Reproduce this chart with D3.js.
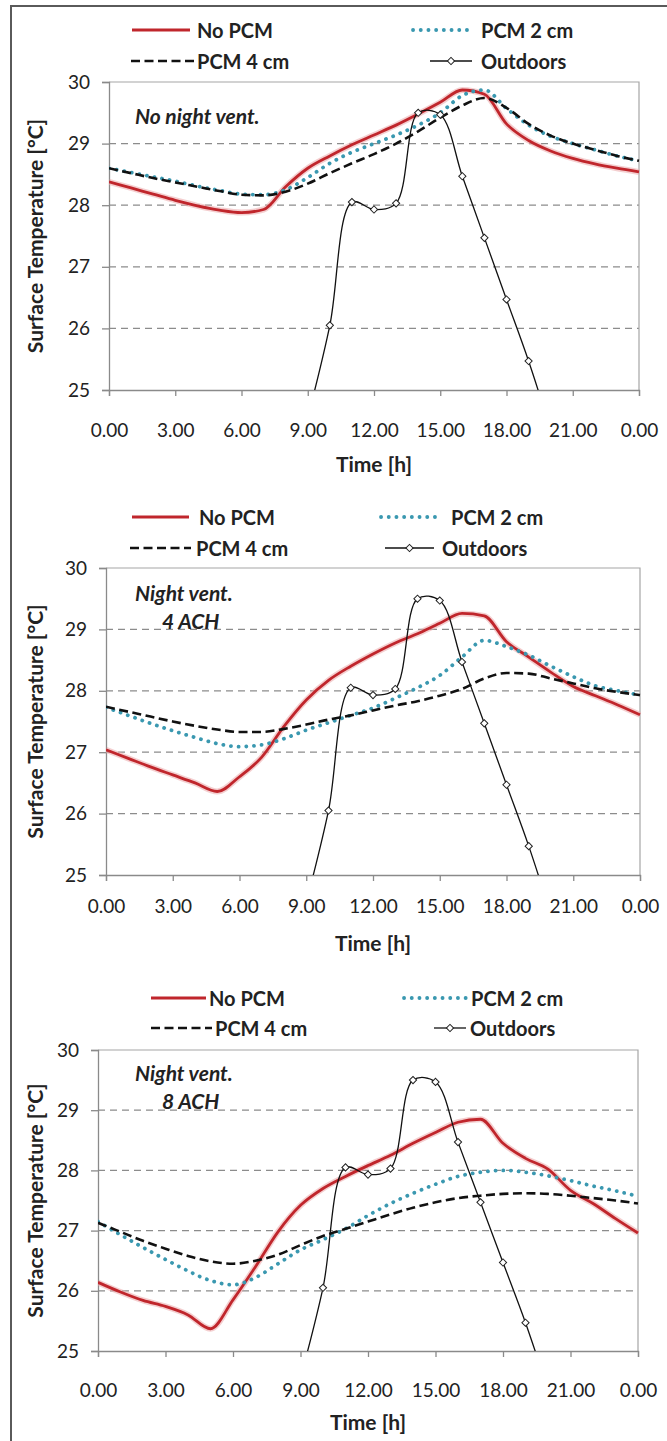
<!DOCTYPE html>
<html>
<head>
<meta charset="utf-8">
<script src="https://cdn.jsdelivr.net/npm/d3@7"></script>
<style>
  html, body { margin: 0; padding: 0; background: #fff; }
  svg { display: block; }
  text { font-family: "Lato", "Open Sans", sans-serif; fill: #222; }
</style>
</head>
<body>
<svg id="chart" width="667" height="1441"></svg>
<script>
// ---- data -------------------------------------------------------------
const hours = [0,1,2,3,4,5,6,7,8,9,10,11,12,13,14,15,16,17,18,19,20,21,22,23,24];
const xTickValues = [0,3,6,9,12,15,18,21,24];
const xTickLabels = ["0.00","3.00","6.00","9.00","12.00","15.00","18.00","21.00","0.00"];
const yTickValues = [25,26,27,28,29,30];
const seriesNames = ["No PCM","PCM 2 cm","PCM 4 cm","Outdoors"];
const panelTitles = [["No night vent."],["Night vent.","4 ACH"],["Night vent.","8 ACH"]];

// outdoor air temperature (same in all three cases)
const outdoorHours = [9,10,11,12,13,14,15,16,17,18,19,20];
const outdoorTemp  = [24.55,26.05,28.05,27.93,28.03,29.5,29.47,28.47,27.47,26.47,25.47,24.35];

// surface temperatures, no night ventilation
const noPcm1 = [28.38,28.28,28.18,28.08,27.99,27.92,27.88,27.93,28.3,28.6,28.8,28.98,29.14,29.3,29.48,29.67,29.87,29.8,29.32,29.05,28.88,28.76,28.67,28.6,28.54];
const pcm2_1 = [28.6,28.53,28.46,28.39,28.31,28.24,28.18,28.17,28.25,28.45,28.68,28.86,29.0,29.14,29.3,29.5,29.78,29.87,29.57,29.3,29.12,29.0,28.9,28.8,28.72];
const pcm4_1 = [28.6,28.52,28.44,28.37,28.3,28.23,28.17,28.16,28.22,28.35,28.52,28.68,28.83,29.0,29.2,29.42,29.62,29.74,29.58,29.32,29.13,29.0,28.9,28.8,28.72];

// night ventilation 4 ACH
const noPcm2 = [27.04,26.9,26.76,26.63,26.5,26.36,26.6,26.92,27.42,27.85,28.17,28.4,28.6,28.78,28.93,29.1,29.26,29.22,28.8,28.55,28.3,28.07,27.92,27.77,27.61];
const pcm2_2 = [27.73,27.6,27.47,27.35,27.24,27.14,27.09,27.12,27.22,27.36,27.48,27.6,27.72,27.88,28.05,28.25,28.55,28.82,28.72,28.58,28.4,28.23,28.08,28.0,27.93];
const pcm4_2 = [27.74,27.66,27.58,27.5,27.43,27.37,27.33,27.33,27.38,27.45,27.53,27.6,27.68,27.76,27.83,27.92,28.03,28.2,28.29,28.28,28.2,28.12,28.04,27.98,27.93];

// night ventilation 8 ACH
const noPcm3 = [26.14,25.98,25.84,25.74,25.6,25.37,25.85,26.4,26.98,27.42,27.7,27.9,28.08,28.25,28.45,28.63,28.8,28.85,28.45,28.2,28.02,27.67,27.45,27.2,26.96];
const pcm2_3 = [27.15,26.93,26.72,26.52,26.33,26.17,26.1,26.22,26.45,26.68,26.85,27.03,27.25,27.45,27.62,27.77,27.9,27.97,28.0,27.97,27.91,27.83,27.74,27.66,27.57];
const pcm4_3 = [27.13,26.98,26.83,26.7,26.58,26.49,26.45,26.5,26.6,26.76,26.91,27.03,27.15,27.27,27.38,27.47,27.54,27.58,27.61,27.62,27.61,27.58,27.54,27.5,27.45];

const panelSeries = [
  [noPcm1, pcm2_1, pcm4_1],
  [noPcm2, pcm2_2, pcm4_2],
  [noPcm3, pcm2_3, pcm4_3]
];

// ---- layout -----------------------------------------------------------
const layouts = [
  { l:109, r:639, t:82,   b:390,  tickY:430,  titleY:463,  rows:[30,61],
    leg:{ redX:[132,190], redT:197, dashX:[131,194], dashT:197, dotX:[413,470], dotT:481, outX:[430,472], outT:481 },
    note:[[135,115],[0,0]] },
  { l:106, r:640, t:568,  b:875,  tickY:906,  titleY:942,  rows:[517,548],
    leg:{ redX:[132,189], redT:199, dashX:[130,191], dashT:196, dotX:[381,442], dotT:451, outX:[385,434], outT:442 },
    note:[[135,592],[162,620]] },
  { l:98,  r:638, t:1050, b:1351, tickY:1390, titleY:1421, rows:[998,1028],
    leg:{ redX:[151,206], redT:209, dashX:[151,212], dashT:215, dotX:[404,466], dotT:471, outX:[434,466], outT:470 },
    note:[[135,1072],[162,1100]] }
];

const COLORS = { red:"#c0262c", redGlow:"#eba7a9", blue:"#3a98b0", black:"#111" };

const svg = d3.select("#chart");

// outer frame
svg.append("path")
  .attr("d", "M11,1441 L11,6 L667,6")
  .attr("fill","none").attr("stroke","#5a5a5a").attr("stroke-width",2);

function styleRed(sel, glow){
  return glow
    ? sel.attr("stroke",COLORS.redGlow).attr("stroke-width",6).attr("stroke-opacity",0.55).attr("fill","none").attr("stroke-linejoin","round")
    : sel.attr("stroke",COLORS.red).attr("stroke-width",2.8).attr("fill","none").attr("stroke-linejoin","round");
}
function styleDot(sel){
  return sel.attr("stroke",COLORS.blue).attr("stroke-width",3.8).attr("stroke-linecap","round")
    .attr("stroke-dasharray","0.1,7.6").attr("fill","none");
}
function styleDash(sel){
  return sel.attr("stroke",COLORS.black).attr("stroke-width",2.6).attr("stroke-dasharray","9,4.5").attr("fill","none");
}
function diamond(g, cx, cy){
  g.append("path")
    .attr("d", d3.symbol(d3.symbolSquare, 26)())
    .attr("transform", `translate(${cx},${cy}) rotate(45)`)
    .attr("fill","#fff").attr("stroke","#222").attr("stroke-width",1);
}

layouts.forEach((L, i) => {
  const g = svg.append("g");
  const x = d3.scaleLinear().domain([0,24]).range([L.l, L.r]);
  const y = d3.scaleLinear().domain([25,30]).range([L.b, L.t]);

  // horizontal dashed gridlines
  g.append("g").selectAll("line").data([26,27,28,29]).join("line")
    .attr("x1", L.l).attr("x2", L.r)
    .attr("y1", d => y(d)).attr("y2", d => y(d))
    .attr("stroke","#8c8c8c").attr("stroke-width",1.2).attr("stroke-dasharray","7,5");

  // plot-area border (top and right)
  g.append("path")
    .attr("d", `M${L.l},${L.t} L${L.r},${L.t} L${L.r},${L.b}`)
    .attr("fill","none").attr("stroke","#a6a6a6").attr("stroke-width",1.2);

  // axes
  const yAxis = d3.axisLeft(y).tickValues(yTickValues).tickSize(7).tickPadding(12).tickFormat(d3.format("d"));
  const ya = g.append("g").attr("transform",`translate(${L.l},0)`).call(yAxis);
  const xAxis = d3.axisBottom(x).tickValues(xTickValues).tickSize(6)
    .tickFormat((d, k) => xTickLabels[k]);
  const xa = g.append("g").attr("transform",`translate(0,${L.b})`).call(xAxis);
  [ya, xa].forEach(a => {
    a.select(".domain").attr("stroke","#8a8a8a").attr("stroke-width",1.3);
    a.selectAll(".tick line").attr("stroke","#8a8a8a").attr("stroke-width",1.3);
    a.selectAll(".tick text").attr("fill","#222").style("font-size","19px")
      .style("font-family","Lato, sans-serif");
  });
  xa.selectAll(".tick text").attr("y", L.tickY - L.b).attr("dy","0.35em");

  // axis titles
  g.append("text").attr("x", (L.l + L.r)/2).attr("y", L.titleY)
    .attr("text-anchor","middle").attr("dominant-baseline","central")
    .style("font-size","21px").style("font-weight","700").text("Time [h]");
  g.append("text")
    .attr("transform", `translate(34,${(L.t + L.b)/2}) rotate(-90)`)
    .attr("text-anchor","middle").attr("dominant-baseline","central")
    .style("font-size","21px").style("font-weight","700").text("Surface Temperature [°C]");

  // case annotation
  panelTitles[i].forEach((t, k) => {
    g.append("text").attr("x", L.note[k][0]).attr("y", L.note[k][1])
      .attr("dominant-baseline","central")
      .style("font-size","21px").style("font-weight","700").style("font-style","italic").text(t);
  });

  // clip region
  const clipId = "clip" + i;
  svg.append("clipPath").attr("id", clipId).append("rect")
    .attr("x", L.l).attr("y", L.t - 4).attr("width", L.r - L.l + 4).attr("height", L.b - L.t + 4);
  const plot = g.append("g").attr("clip-path", `url(#${clipId})`);

  const smooth = d3.line().x((d, k) => x(hours[k])).y(d => y(d)).curve(d3.curveMonotoneX);
  const [red, blue, black] = panelSeries[i];

  styleRed(plot.append("path").attr("d", smooth(red)), true);
  styleRed(plot.append("path").attr("d", smooth(red)), false);
  styleDot(plot.append("path").attr("d", smooth(blue)));
  styleDash(plot.append("path").attr("d", smooth(black)));

  // outdoors
  const outLine = d3.line().x((d, k) => x(outdoorHours[k])).y(d => y(d)).curve(d3.curveCatmullRom.alpha(0.5));
  plot.append("path").attr("d", outLine(outdoorTemp))
    .attr("fill","none").attr("stroke","#111").attr("stroke-width",1.3);
  outdoorTemp.forEach((v, k) => {
    if (v >= 25) diamond(plot, x(outdoorHours[k]), y(v));
  });

  // legend
  const lg = g.append("g").style("font-size","20px").style("font-weight","700");
  const [r1, r2] = L.rows;
  const E = L.leg;
  styleRed(lg.append("line").attr("x1",E.redX[0]).attr("x2",E.redX[1]).attr("y1",r1).attr("y2",r1), false).attr("stroke-width",3.2);
  lg.append("text").attr("x",E.redT).attr("y",r1).attr("dominant-baseline","central").text(seriesNames[0]);
  styleDot(lg.append("line").attr("x1",E.dotX[0]).attr("x2",E.dotX[1]).attr("y1",r1).attr("y2",r1));
  lg.append("text").attr("x",E.dotT).attr("y",r1).attr("dominant-baseline","central").text(seriesNames[1]);
  styleDash(lg.append("line").attr("x1",E.dashX[0]).attr("x2",E.dashX[1]).attr("y1",r2).attr("y2",r2));
  lg.append("text").attr("x",E.dashT).attr("y",r2).attr("dominant-baseline","central").text(seriesNames[2]);
  lg.append("line").attr("x1",E.outX[0]).attr("x2",E.outX[1]).attr("y1",r2).attr("y2",r2)
    .attr("stroke","#111").attr("stroke-width",1.3);
  diamond(lg, (E.outX[0] + E.outX[1]) / 2, r2);
  lg.append("text").attr("x",E.outT).attr("y",r2).attr("dominant-baseline","central").text(seriesNames[3]);
});
</script>
</body>
</html>
